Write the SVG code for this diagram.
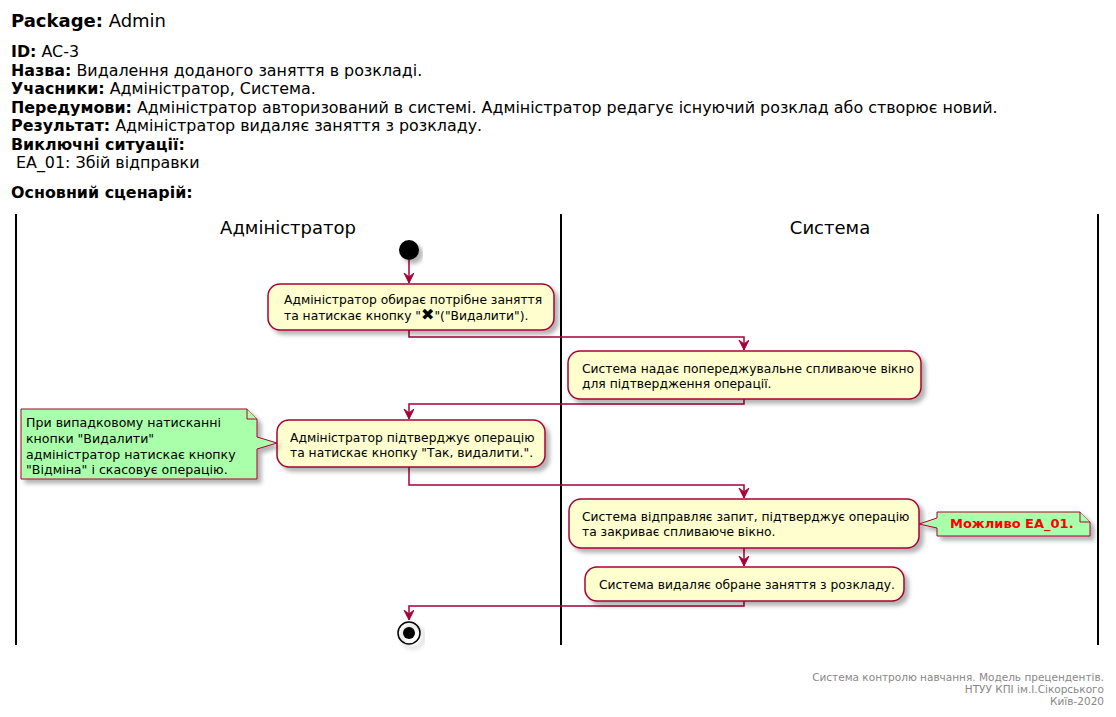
<svg xmlns="http://www.w3.org/2000/svg" width="1116" height="717" viewBox="0 0 1116 717">
<style>
text{font-family:"DejaVu Sans",sans-serif;fill:#000}
.h{font-size:15.9px}
.b{font-weight:bold}
.lane{font-size:18px;text-anchor:middle}
.act{fill:#FEFECE;stroke:#A80036;stroke-width:1.5}
.at{font-size:12.3px}
.note{fill:#AAFFAA;stroke:#A80036;stroke-width:1}
.nt{font-size:12.6px}
.con{fill:none;stroke:#A80036;stroke-width:1.5}
.sl{stroke:#000;stroke-width:2}
.ft{font-size:10.5px;fill:#888;text-anchor:end}
</style>
<defs>
<filter id="sh" x="-10%" y="-20%" width="130%" height="160%">
<feDropShadow dx="4" dy="4" stdDeviation="2" flood-color="#000" flood-opacity="0.3"/>
</filter>
<marker id="ar" markerWidth="12" markerHeight="12" refX="10" refY="5" orient="auto" markerUnits="userSpaceOnUse">
<path d="M0,0 L10,5 L0,10 L4,5 Z" fill="#A80036" stroke="#A80036" stroke-width="1"/>
</marker>
</defs>
<rect width="1116" height="717" fill="#fff"/>
<g id="header">
<text x="11" y="27" style="font-size:18px"><tspan class="b">Package:</tspan> Admin</text>
<text class="h" x="11" y="57"><tspan class="b">ID:</tspan> AC-3</text>
<text class="h" x="11" y="76"><tspan class="b">Назва:</tspan> Видалення доданого заняття в розкладі.</text>
<text class="h" x="11" y="94"><tspan class="b">Учасники:</tspan> Адміністратор, Система.</text>
<text class="h" x="11" y="113"><tspan class="b">Передумови:</tspan> Адміністратор авторизований в системі. Адміністратор редагує існуючий розклад або створює новий.</text>
<text class="h" x="11" y="131"><tspan class="b">Результат:</tspan> Адміністратор видаляє заняття з розкладу.</text>
<text class="h b" x="11" y="150">Виключні ситуації:</text>
<text class="h" x="16" y="168">EA_01: Збій відправки</text>
<text class="h b" x="11" y="198">Основний сценарій:</text>
</g>
<g id="lanes">
<line class="sl" x1="16" y1="214" x2="16" y2="645"/>
<line class="sl" x1="561" y1="214" x2="561" y2="645"/>
<line class="sl" x1="1098" y1="214" x2="1098" y2="645"/>
<text class="lane" x="288" y="234">Адміністратор</text>
<text class="lane" x="830" y="234">Система</text>
</g>
<g id="connectors">
<path class="con" d="M409,260 L409,283" marker-end="url(#ar)"/>
<path class="con" d="M409,330 L409,337 L744,337 L744,350" marker-end="url(#ar)"/>
<path class="con" d="M744,399 L744,404 L409,404 L409,419" marker-end="url(#ar)"/>
<path class="con" d="M409,467 L409,485 L744,485 L744,498" marker-end="url(#ar)"/>
<path class="con" d="M744,548 L744,566" marker-end="url(#ar)"/>
<path class="con" d="M744,601 L744,606 L409,606 L409,620" marker-end="url(#ar)"/>
</g>
<g id="start">
<circle cx="409" cy="250" r="10" fill="#000" filter="url(#sh)"/>
</g>
<g id="a1">
<rect class="act" x="268" y="284" width="286" height="46" rx="12" filter="url(#sh)"/>
<text class="at" x="284" y="304">Адміністратор обирає потрібне заняття</text>
<text class="at" x="284" y="320">та натискає кнопку "<tspan style="font-size:16px">✖</tspan>"("Видалити").</text>
</g>
<g id="a2">
<rect class="act" x="568" y="351" width="353" height="48" rx="12" filter="url(#sh)"/>
<text class="at" x="582" y="373">Система надає попереджувальне спливаюче вікно</text>
<text class="at" x="582" y="388">для підтвердження операції.</text>
</g>
<g id="a3">
<rect class="act" x="277" y="420" width="268" height="47" rx="12" filter="url(#sh)"/>
<text class="at" x="290" y="442">Адміністратор підтверджує операцію</text>
<text class="at" x="290" y="457">та натискає кнопку "Так, видалити.".</text>
</g>
<g id="n1">
<path class="note" d="M21,409 L247,409 L257,419 L257,437 L277,443 L257,449 L257,479 L21,479 Z" filter="url(#sh)"/>
<path class="note" d="M247,409 L247,419 L257,419" fill="none"/>
<text class="nt" x="26" y="427">При випадковому натисканні</text>
<text class="nt" x="26" y="443">кнопки "Видалити"</text>
<text class="nt" x="26" y="459">адміністратор натискає кнопку</text>
<text class="nt" x="26" y="474">"Відміна" і скасовує операцію.</text>
</g>
<g id="a4">
<rect class="act" x="569" y="499" width="350" height="49" rx="12" filter="url(#sh)"/>
<text class="at" x="582" y="521">Система відправляє запит, підтверджує операцію</text>
<text class="at" x="582" y="536">та закриває спливаюче вікно.</text>
</g>
<g id="n2">
<path class="note" d="M937,512 L1080,512 L1090,522 L1090,536 L937,536 L937,528 L919,524 L937,518 Z" filter="url(#sh)"/>
<path class="note" d="M1080,512 L1080,522 L1090,522" fill="none"/>
<text class="b" x="950" y="528" style="fill:#FF0000;font-size:13px">Можливо EA_01.</text>
</g>
<g id="a5">
<rect class="act" x="585" y="567" width="319" height="34" rx="12" filter="url(#sh)"/>
<text class="at" x="599" y="589">Система видаляє обране заняття з розкладу.</text>
</g>
<g id="end">
<circle cx="409" cy="633" r="11" fill="none" stroke="#000" stroke-width="1.5" filter="url(#sh)"/>
<circle cx="409" cy="633" r="6" fill="#000"/>
</g>
<g id="footer">
<text class="ft" x="1104" y="681">Система контролю навчання. Модель прецендентів.</text>
<text class="ft" x="1104" y="693">НТУУ КПІ ім.І.Сікорського</text>
<text class="ft" x="1104" y="705">Київ-2020</text>
</g>
</svg>
